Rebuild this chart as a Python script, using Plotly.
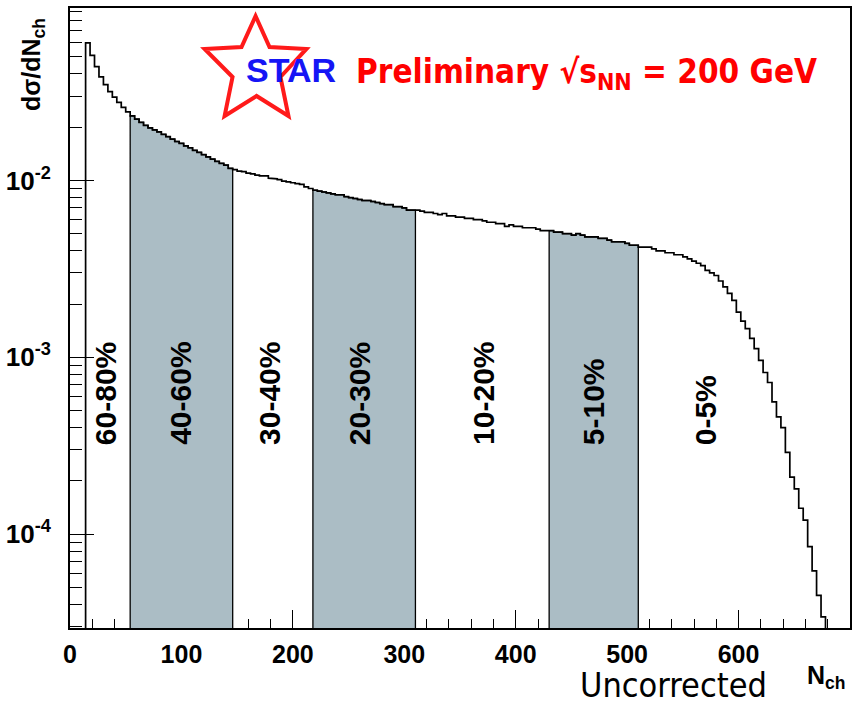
import plotly.graph_objects as go

# Uncorrected charged-particle multiplicity distribution, 4-unit bins from N_ch = 14
bin_width = 4
first_edge = 14
dsigma_dnch = [
    0.0600, 0.0510, 0.0440, 0.0385, 0.0348, 0.0318, 0.0296, 0.0276, 0.0259, 0.0244,
    0.0232, 0.0222, 0.0213, 0.0205, 0.0198, 0.0193, 0.0188, 0.0182, 0.0177, 0.0171,
    0.0166, 0.0162, 0.0157, 0.0153, 0.0148, 0.0144, 0.0140, 0.0136, 0.0132, 0.0128,
    0.0125, 0.0122, 0.0117, 0.0115, 0.0113, 0.0112, 0.0110, 0.0109, 0.0107, 0.0106,
    0.0106, 0.0103, 0.0102, 0.0101, 0.0099, 0.0098, 0.0097, 0.0096, 0.0095, 0.0092,
    0.0090, 0.0088, 0.0087, 0.0086, 0.0085, 0.0084, 0.0083, 0.0083, 0.0081, 0.0080,
    0.0079, 0.0078, 0.0077, 0.0077, 0.0076, 0.0075, 0.0074, 0.0073, 0.0073, 0.0071,
    0.0071, 0.0070, 0.0068, 0.0068, 0.0068, 0.0067, 0.0066, 0.0066, 0.0065, 0.0064,
    0.0065, 0.0063, 0.0063, 0.0062, 0.0062, 0.0061, 0.0061, 0.0060, 0.0060, 0.0059,
    0.0058, 0.0058, 0.0057, 0.0057, 0.0055, 0.0056, 0.0055, 0.0055, 0.0054, 0.0054,
    0.0054, 0.0053, 0.0052, 0.0052, 0.0052, 0.0051, 0.0051, 0.0050, 0.0050, 0.0049,
    0.0050, 0.0049, 0.0048, 0.0048, 0.0048, 0.0047, 0.0047, 0.0046, 0.0045, 0.0045,
    0.0045, 0.0044, 0.0043, 0.0043, 0.0042, 0.0042, 0.0042, 0.0041, 0.0040, 0.0040,
    0.0039, 0.0039, 0.0038, 0.0038, 0.0037, 0.0036, 0.0035, 0.0034, 0.0033, 0.0031,
    0.0030, 0.0029, 0.0027, 0.0025, 0.0023, 0.0021, 0.0018, 0.0016, 0.00145, 0.00128,
    0.00112, 0.00096, 0.00082, 0.00072, 0.00056, 0.00046, 0.00040, 0.00029, 0.00021, 0.00018,
    0.00014, 0.00012, 0.000085, 0.000062, 0.000045, 0.000034,
]

# Centrality classes: lower N_ch edge of each class
centrality_edges = [14, 54, 146, 218, 310, 430, 510]
centrality_labels = ["60-80%", "40-60%", "30-40%", "20-30%", "10-20%", "5-10%", "0-5%"]
shaded_classes = ["40-60%", "20-30%", "5-10%"]

x_tick_values = [0, 100, 200, 300, 400, 500, 600]
y_tick_values = [1e-4, 1e-3, 1e-2]
y_tick_labels = ["10<sup>-4</sup>", "10<sup>-3</sup>", "10<sup>-2</sup>"]

FLOOR = 1e-6
FILL = "#abbdc5"
edges = [first_edge + bin_width * i for i in range(len(dsigma_dnch) + 1)]
last_edge = edges[-1]


def step_outline(i0, i1):
    """Corner points of the histogram between bin indices i0 (incl.) and i1 (excl.)."""
    xs, ys = [edges[i0]], [FLOOR]
    for i in range(i0, i1):
        xs += [edges[i], edges[i + 1]]
        ys += [dsigma_dnch[i], dsigma_dnch[i]]
    xs.append(edges[i1])
    ys.append(FLOOR)
    return xs, ys


fig = go.Figure()

# shaded centrality classes
class_bounds = centrality_edges + [last_edge]
for k, label in enumerate(centrality_labels):
    if label not in shaded_classes:
        continue
    i0 = (class_bounds[k] - first_edge) // bin_width
    i1 = (class_bounds[k + 1] - first_edge) // bin_width
    xs, ys = step_outline(i0, i1)
    fig.add_trace(go.Scatter(x=xs, y=ys, mode="lines", fill="toself", fillcolor=FILL,
                             line=dict(color="black", width=1.3), hoverinfo="skip"))

# full histogram outline
xs, ys = step_outline(0, len(dsigma_dnch))
fig.add_trace(go.Scatter(x=xs, y=ys, mode="lines", line=dict(color="black", width=1.7),
                         hoverinfo="skip"))

# centrality class labels
label_x = [32, 99, 179, 260, 371, 470, 571]
for lx, label in zip(label_x, centrality_labels):
    fig.add_annotation(x=lx, y=(628 - 447) / 620, xref="x", yref="paper", text=label,
                       textangle=-90, showarrow=False, xanchor="center", yanchor="bottom",
                       font=dict(family="Liberation Sans", size=30, color="black", weight="bold"))


def paper(xp, yp):
    return (xp - 70) / 782, (628 - yp) / 620


# STAR logo star outline
star_pts = [(256, 16), (270, 47), (307, 49), (281, 77), (289, 116), (257, 96),
            (225, 116), (233, 77), (205, 49), (242, 47)]
path = ""
for j, (a, b) in enumerate(star_pts):
    px_, py_ = paper(a, b)
    path += ("M" if j == 0 else "L") + f"{px_:.4f},{py_:.4f} "
path += "Z"
fig.add_shape(type="path", path=path, xref="paper", yref="paper",
              line=dict(color="#ff1a1a", width=4))

sx, sy = paper(292, 70)
fig.add_annotation(x=sx, y=sy, xref="paper", yref="paper", text="<b>STAR</b>", showarrow=False,
                   xanchor="center", yanchor="middle",
                   font=dict(family="Liberation Sans", size=34, color="#1515f5"))

tx, ty = paper(355, 73)
fig.add_annotation(x=tx, y=ty, xref="paper", yref="paper",
                   text="<b>Preliminary √s<sub>NN</sub> = 200 GeV</b>", showarrow=False,
                   xanchor="left", yanchor="middle",
                   font=dict(family="DejaVu Sans Condensed", size=33, color="#ff0000"))

ux, uy = paper(675, 685)
fig.add_annotation(x=ux, y=uy, xref="paper", yref="paper", text="Uncorrected",
                   showarrow=False, xanchor="center", yanchor="middle", borderpad=0,
                   font=dict(family="DejaVu Sans Condensed", size=34, color="black"))

nx, ny = paper(828, 677)
fig.add_annotation(x=nx, y=ny, xref="paper", yref="paper", text="<b>N<sub>ch</sub></b>",
                   showarrow=False, xanchor="center", yanchor="middle",
                   font=dict(family="Liberation Sans", size=25, color="black"))

ax_, ay_ = paper(33, 65)
fig.add_annotation(x=ax_, y=ay_, xref="paper", yref="paper", text="<b>dσ/dN<sub>ch</sub></b>",
                   showarrow=False, textangle=-90, xanchor="center", yanchor="middle",
                   font=dict(family="Liberation Sans", size=25, color="black"))

minor_y = [m * 10.0 ** e for e in (-5, -4, -3, -2) for m in range(2, 10)]
minor_y = [v for v in minor_y if 2.95e-5 <= v <= 0.094]

fig.update_layout(
    width=852, height=706,
    margin=dict(l=70, r=0, t=8, b=78),
    paper_bgcolor="white", plot_bgcolor="white",
    showlegend=False,
    xaxis=dict(range=[0, 700], showgrid=False, zeroline=False,
               showline=True, mirror=True, linecolor="black", linewidth=1.8,
               ticks="inside", ticklen=18, tickwidth=1.3, tickcolor="black",
               tickvals=x_tick_values, ticklabelstandoff=3,
               tickfont=dict(family="Liberation Sans", size=25, color="black", weight="bold"),
               minor=dict(ticks="inside", ticklen=9, tickwidth=1.3, tickcolor="black",
                          dtick=20, tick0=0),
               layer="below traces"),
    yaxis=dict(type="log", range=[-4.531, -1.025], showgrid=False, zeroline=False,
               showline=True, mirror=True, linecolor="black", linewidth=1.8,
               ticks="inside", ticklen=24, tickwidth=1.3, tickcolor="black",
               tickvals=y_tick_values, ticktext=y_tick_labels, ticklabelstandoff=12,
               tickfont=dict(family="Liberation Sans", size=26, color="black", weight="bold"),
               minor=dict(ticks="inside", ticklen=12, tickwidth=1.3, tickcolor="black",
                          tickvals=minor_y),
               layer="below traces"),
)

fig.write_html("out.html")
